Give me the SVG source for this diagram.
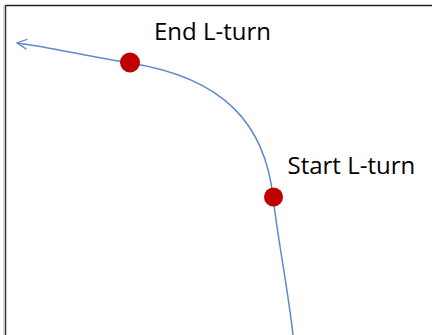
<svg xmlns="http://www.w3.org/2000/svg" width="432" height="335" viewBox="0 0 432 335">
<style>
.lbl{font-family:"Open Sans","Noto Sans",sans-serif;font-size:24px;fill:#000}
.dot{fill:#C00000}
.conn{fill:none;stroke:#5B8BCB;stroke-width:1.5}
</style>
<defs>
<marker id="arr" viewBox="0 0 12 12" refX="11" refY="6" markerWidth="12" markerHeight="12" markerUnits="userSpaceOnUse" orient="auto">
<path d="M1,1 L11,6 L1,11" fill="none" stroke="#5B8BCB" stroke-width="1.3"/>
</marker>
</defs>
<rect width="432" height="335" fill="#fff"/>
<g id="frame">
<line x1="5" y1="5.5" x2="432" y2="5.5" stroke="#222" stroke-width="1.5"/>
<line x1="5.5" y1="5" x2="5.5" y2="335" stroke="#333" stroke-width="1.5"/>
<line x1="4" y1="5" x2="4" y2="335" stroke="#bbb" stroke-width="1"/>
</g>
<g id="connectors">
<path class="conn" d="M293,335 C288,290 278,240 273,197 C265,125 225,78 130,63 C90,57 50,47 17,43" marker-end="url(#arr)"/>
</g>
<g id="end-lturn">
<circle class="dot" cx="130" cy="62.5" r="10"/>
<text class="lbl" x="154" y="39.5">End L-turn</text>
</g>
<g id="start-lturn">
<circle class="dot" cx="273.5" cy="197" r="9.5"/>
<text class="lbl" x="287.5" y="173.5">Start L-turn</text>
</g>
</svg>
